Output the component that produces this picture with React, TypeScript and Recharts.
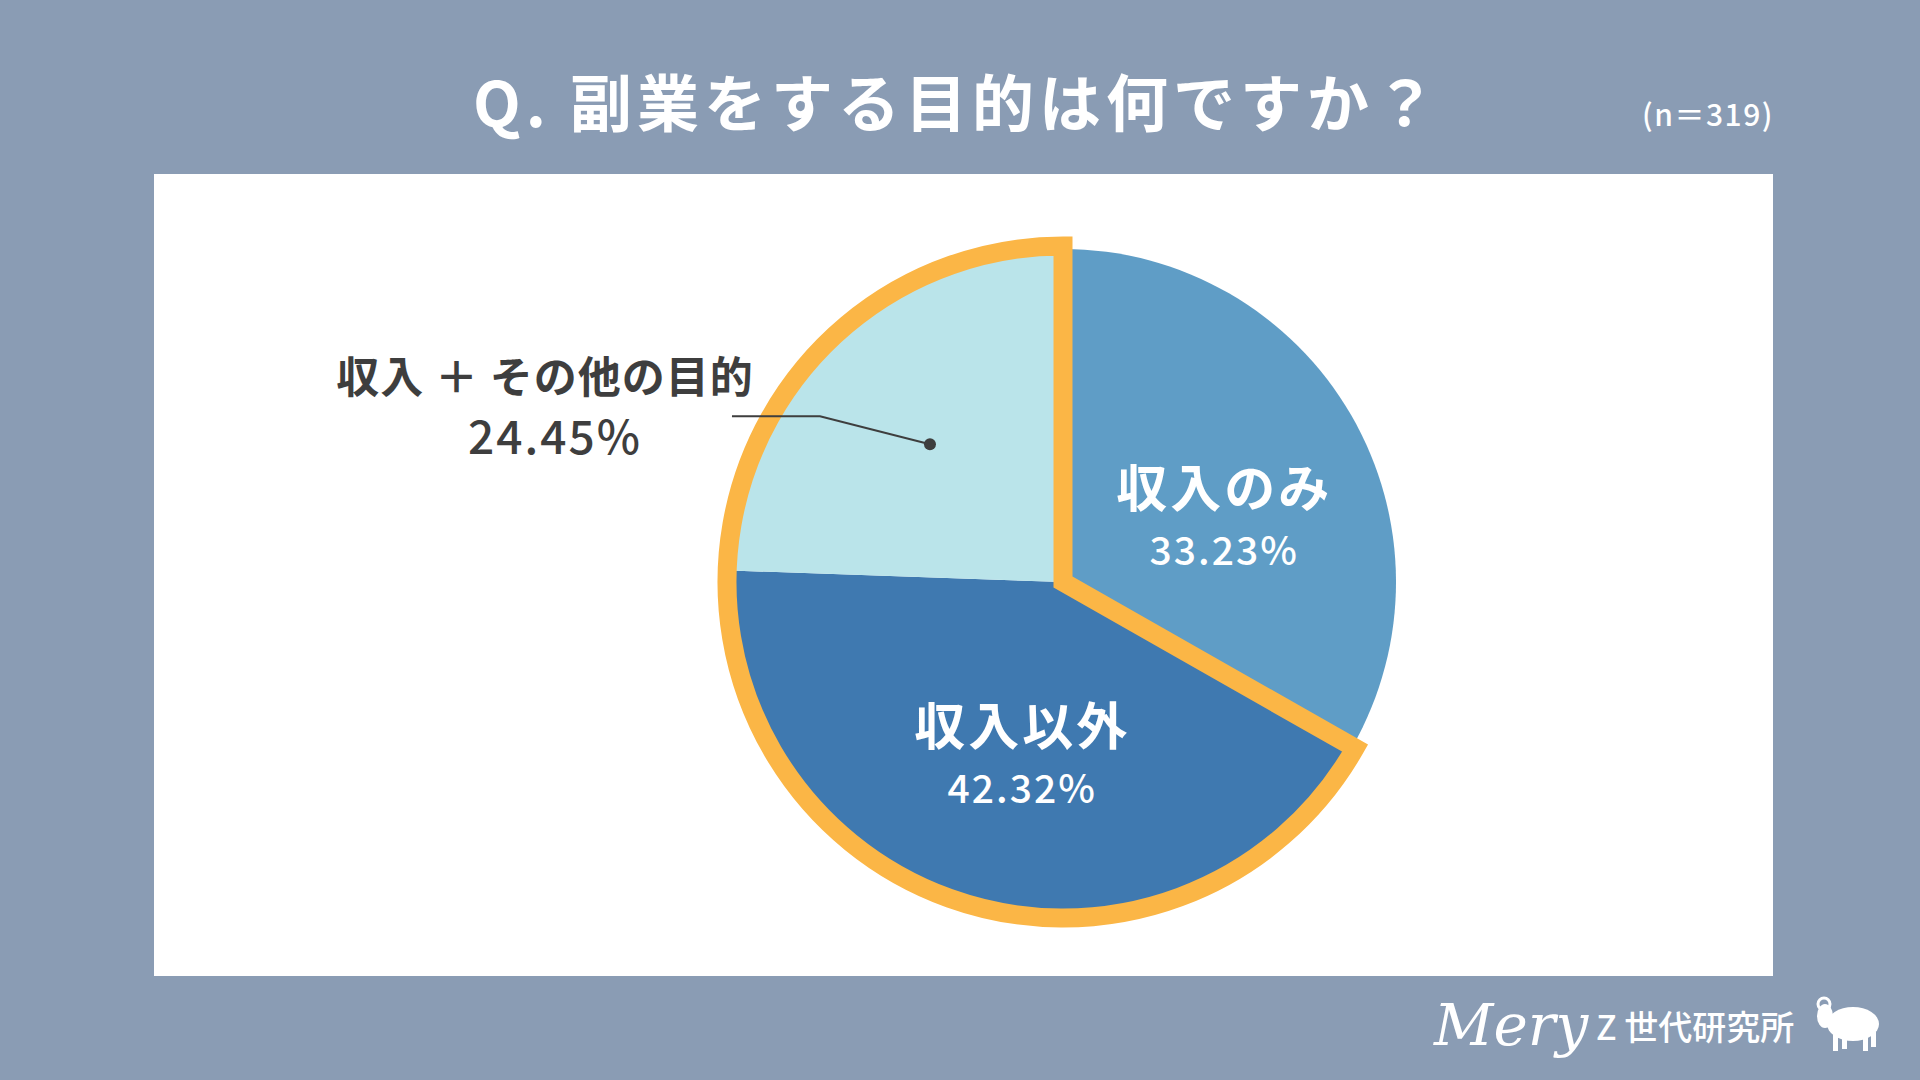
import { Cell, Pie, PieChart } from "recharts"

// answers to "副業をする目的は何ですか？" (n=319)
const categories = ["収入のみ", "収入以外", "収入 ＋ その他の目的"]
const shares = [33.23, 42.32, 24.45]

// orange outline groups everything that is not "income only"
const outlineGroups = ["収入のみ", "収入以外の目的を含む"]
const outlineShares = [33.23, 66.77]

const sliceColors = ["#5f9dc6", "#3f79b0", "#bae4ea"]
const ORANGE = "#fbb646"
const DARK = "#3e3e3e"
const FONT = "'Noto Sans CJK JP', 'Noto Sans', sans-serif"

const data = categories.map((name, i) => ({ name, value: shares[i] }))
const outlineData = outlineGroups.map((name, i) => ({ name, value: outlineShares[i] }))

const RAD = Math.PI / 180
const polar = (cx: number, cy: number, r: number, angle: number) => ({
  x: cx + r * Math.cos(-angle * RAD),
  y: cy + r * Math.sin(-angle * RAD),
})

const renderLabel = (props: any) => {
  const { cx, cy, midAngle, outerRadius, index, name, value } = props
  const pct = `${Number(value).toFixed(2)}%`

  if (index === 2) {
    // outside label with leader line
    const dot = polar(cx, cy, outerRadius * 0.575, midAngle)
    const elbow = { x: dot.x - 110, y: dot.y - 28 }
    const end = { x: elbow.x - 88, y: elbow.y }
    return (
      <g key="lbl-2">
        <polyline
          points={`${end.x},${end.y} ${elbow.x},${elbow.y} ${dot.x},${dot.y}`}
          fill="none"
          stroke={DARK}
          strokeWidth={2}
        />
        <circle cx={dot.x} cy={dot.y} r={6} fill={DARK} />
        <text
          x={545}
          y={end.y - 42}
          textAnchor="middle"
          dominantBaseline="central"
          fill={DARK}
          fontFamily={FONT}
          fontWeight={700}
          fontSize={43}
          letterSpacing={1}
        >
          {name}
        </text>
        <text
          x={555}
          y={end.y + 18}
          textAnchor="middle"
          dominantBaseline="central"
          fill={DARK}
          fontFamily={FONT}
          fontWeight={500}
          fontSize={46}
          letterSpacing={2}
        >
          {pct}
        </text>
      </g>
    )
  }

  const ratio = index === 0 ? 0.56 : 0.45
  const p = polar(cx, cy, outerRadius * ratio, midAngle)
  return (
    <g key={`lbl-${index}`}>
      <text
        x={p.x}
        y={p.y - 3}
        textAnchor="middle"
        dominantBaseline="central"
        fill="#fff"
        fontFamily={FONT}
        fontWeight={700}
        fontSize={51}
        letterSpacing={3}
      >
        {name}
      </text>
      <text
        x={p.x}
        y={p.y + 60}
        textAnchor="middle"
        dominantBaseline="central"
        fill="#fff"
        fontFamily={FONT}
        fontWeight={500}
        fontSize={39}
        letterSpacing={2}
      >
        {pct}
      </text>
    </g>
  )
}

const Sheep = () => (
  <svg width={70} height={58} viewBox="0 0 70 58" style={{ position: "absolute", left: 1811, top: 996 }}>
    <ellipse cx={42} cy={28} rx={26} ry={17} fill="#fff" />
    <ellipse cx={14} cy={20} rx={8} ry={12} fill="#fff" />
    <circle cx={13} cy={8} r={6} fill="none" stroke="#fff" strokeWidth={3} />
    <rect x={22} y={38} width={5} height={17} fill="#fff" />
    <rect x={31} y={38} width={5} height={15} fill="#fff" />
    <rect x={52} y={38} width={5} height={17} fill="#fff" />
    <rect x={60} y={36} width={5} height={15} fill="#fff" />
  </svg>
)

export default function App() {
  return (
    <div
      style={{
        position: "absolute",
        left: 0,
        top: 0,
        width: 1920,
        height: 1080,
        background: "#8a9cb4",
        fontFamily: FONT,
        overflow: "hidden",
      }}
    >
      <div
        style={{
          position: "absolute",
          left: 0,
          top: 60,
          width: 1914,
          height: 80,
          lineHeight: "80px",
          textAlign: "center",
          color: "#fff",
          fontSize: 62,
          fontWeight: 700,
          letterSpacing: 5,
        }}
      >
        Q. 副業をする目的は何ですか？
      </div>
      <div
        style={{
          position: "absolute",
          right: 1920 - 1774,
          top: 93,
          height: 40,
          lineHeight: "40px",
          color: "#fff",
          fontSize: 30,
          fontWeight: 500,
          letterSpacing: 1.5,
        }}
      >
        (n＝319)
      </div>

      <div
        style={{
          position: "absolute",
          left: 154,
          top: 174,
          width: 1619,
          height: 802,
          background: "#fff",
        }}
      />

      <div style={{ position: "absolute", left: 0, top: 0 }}>
        <PieChart width={1920} height={1080}>
          <Pie
            data={data}
            dataKey="value"
            nameKey="name"
            cx={1058}
            cy={577}
            outerRadius={333}
            startAngle={90}
            endAngle={-270}
            stroke="none"
            label={renderLabel}
            labelLine={false}
            isAnimationActive={false}
          >
            {data.map((d, i) => (
              <Cell key={d.name} fill={sliceColors[i]} stroke="none" />
            ))}
          </Pie>
          <Pie
            data={outlineData}
            dataKey="value"
            nameKey="name"
            cx={1058}
            cy={577}
            outerRadius={336}
            startAngle={90}
            endAngle={-270}
            isAnimationActive={false}
          >
            <Cell fill="none" stroke="none" />
            <Cell fill="none" stroke={ORANGE} strokeWidth={19} strokeLinejoin="miter" />
          </Pie>
        </PieChart>
      </div>

      <div
        style={{
          position: "absolute",
          left: 1434,
          top: 990,
          height: 70,
          lineHeight: "70px",
          color: "#fff",
          fontSize: 58,
          fontStyle: "italic",
          fontFamily: "'DejaVu Serif', serif",
          fontWeight: 300,
        }}
      >
        Mery
      </div>
      <div
        style={{
          position: "absolute",
          left: 1596,
          top: 1005,
          height: 42,
          lineHeight: "42px",
          color: "#fff",
          fontSize: 34,
          fontWeight: 500,
        }}
      >
        Z 世代研究所
      </div>
      <Sheep />
    </div>
  )
}
